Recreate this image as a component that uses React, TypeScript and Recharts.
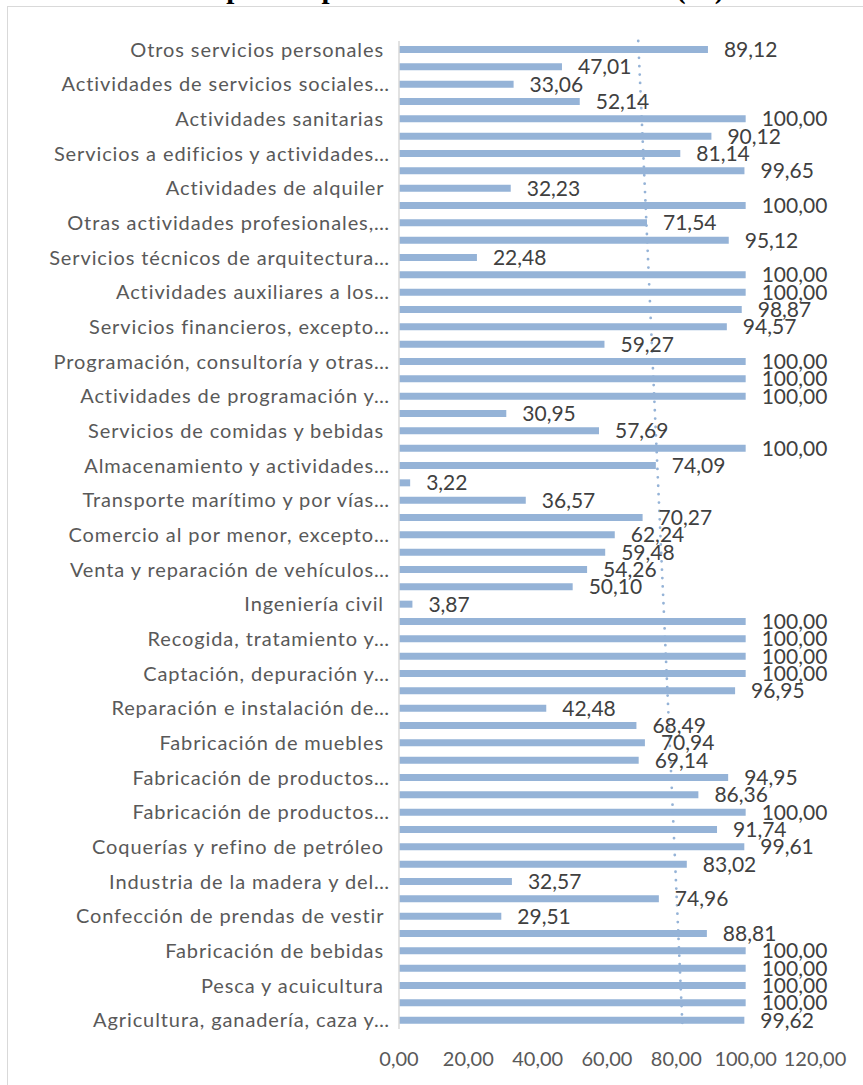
import { BarChart, Bar, XAxis, YAxis, LabelList, ReferenceLine } from 'recharts'

// categories from top to bottom (only every other label is drawn, as in the original)
const categories = [
  'Otros servicios personales\u00a0',
  'Actividades asociativas',
  'Actividades de servicios sociales…',
  'Asistencia en establecimientos residenciales',
  'Actividades sanitarias\u00a0',
  'Actividades administrativas de oficina',
  'Servicios a edificios y actividades…',
  'Actividades relacionadas con el empleo',
  'Actividades de alquiler\u00a0',
  'Actividades veterinarias',
  'Otras actividades profesionales,…',
  'Publicidad y estudios de mercado',
  'Servicios técnicos de arquitectura…',
  'Actividades jurídicas y de contabilidad',
  'Actividades auxiliares a los…',
  'Seguros, reaseguros y fondos de pensiones',
  'Servicios financieros, excepto…',
  'Servicios de información',
  'Programación, consultoría y otras…',
  'Telecomunicaciones',
  'Actividades de programación y…',
  'Edición',
  'Servicios de comidas y bebidas\u00a0',
  'Servicios de alojamiento',
  'Almacenamiento y actividades…',
  'Transporte aéreo',
  'Transporte marítimo y por vías…',
  'Transporte terrestre y por tubería',
  'Comercio al por menor, excepto…',
  'Comercio al por mayor',
  'Venta y reparación de vehículos…',
  'Actividades de construcción especializada',
  'Ingeniería civil\u00a0',
  'Construcción de edificios',
  'Recogida, tratamiento y…',
  'Recogida y tratamiento de aguas residuales',
  'Captación, depuración y…',
  'Suministro de energía eléctrica, gas…',
  'Reparación e instalación de…',
  'Otras industrias manufactureras',
  'Fabricación de muebles\u00a0',
  'Fabricación de otro material de transporte',
  'Fabricación de productos…',
  'Fabricación de maquinaria y equipo',
  'Fabricación de productos…',
  'Metalurgia',
  'Coquerías y refino de petróleo\u00a0',
  'Artes gráficas',
  'Industria de la madera y del…',
  'Industria del cuero y del calzado',
  'Confección de prendas de vestir\u00a0',
  'Industria textil',
  'Fabricación de bebidas\u00a0',
  'Industria de la alimentación',
  'Pesca y acuicultura\u00a0',
  'Silvicultura y explotación forestal',
  'Agricultura, ganadería, caza y…',
]

const values = [
  89.12, 47.01, 33.06, 52.14, 100.0, 90.12, 81.14, 99.65, 32.23, 100.0,
  71.54, 95.12, 22.48, 100.0, 100.0, 98.87, 94.57, 59.27, 100.0, 100.0,
  100.0, 30.95, 57.69, 100.0, 74.09, 3.22, 36.57, 70.27, 62.24, 59.48,
  54.26, 50.1, 3.87, 100.0, 100.0, 100.0, 100.0, 96.95, 42.48, 68.49,
  70.94, 69.14, 94.95, 86.36, 100.0, 91.74, 99.61, 83.02, 32.57, 74.96,
  29.51, 88.81, 100.0, 100.0, 100.0, 100.0, 99.62,
]

const xTicks = [0, 20, 40, 60, 80, 100, 120]

const data = categories.map((name, i) => ({ name, value: values[i] }))

// linear trendline over the series (least squares on category index)
const n = values.length
const meanI = (n - 1) / 2
const meanV = values.reduce((a, b) => a + b, 0) / n
let sxy = 0
let sxx = 0
values.forEach((v, i) => {
  sxy += (i - meanI) * (v - meanV)
  sxx += (i - meanI) * (i - meanI)
})
const slope = sxy / sxx
const trendTop = meanV - slope * meanI
const trendBottom = meanV + slope * (n - 1 - meanI)

const fmt = (v: number) => v.toFixed(2).replace('.', ',')

const BAR = '#95B3D7'
const FONT = 'Lato, "Liberation Sans", sans-serif'

export default function App() {
  return (
    <div style={{ position: 'absolute', left: 0, top: 0, width: 863, height: 1085, overflow: 'hidden', background: '#fff' }}>
      <div
        style={{
          position: 'absolute', left: 37, top: -26, whiteSpace: 'nowrap',
          fontFamily: '"Liberation Serif", serif', fontWeight: 'bold', fontSize: 29, lineHeight: '29px', color: '#000',
        }}
      >
        Gráfico 34. Empleo respecto al total de la actividad (%). Ramo
      </div>
      <div style={{ position: 'absolute', left: 7, top: 6, width: 900, height: 1200, border: '1.5px solid #d9d9d9' }} />
      <div style={{ position: 'absolute', left: 0, top: 0 }}>
        <BarChart
          width={863}
          height={1085}
          data={data}
          layout="vertical"
          margin={{ top: 41, right: 48, bottom: 0, left: 0 }}
          barCategoryGap={0}
        >
          <XAxis
            type="number"
            domain={[0, 120]}
            ticks={xTicks}
            tickFormatter={fmt}
            axisLine={false}
            tickLine={false}
            tickSize={0}
            tickMargin={23}
            height={56}
            interval={0}
            tick={{ fill: '#595959', fontSize: 20, fontFamily: FONT }}
          />
          <YAxis
            type="category"
            dataKey="name"
            width={399}
            interval={1}
            tickLine={false}
            tickSize={0}
            tickMargin={9}
            axisLine={{ stroke: '#d9d9d9', strokeWidth: 1.5 }}
            tick={{ fill: '#595959', fontSize: 20, fontFamily: FONT, letterSpacing: 0.9 }}
          />
          <Bar dataKey="value" fill={BAR} barSize={7} isAnimationActive={false}>
            <LabelList
              dataKey="value"
              position="right"
              offset={16}
              formatter={(v: unknown) => fmt(Number(v))}
              style={{ fill: '#404040', fontSize: 21, fontFamily: FONT }}
            />
          </Bar>
          <ReferenceLine
            segment={[
              { x: trendTop, y: categories[0] },
              { x: trendBottom, y: categories[n - 1] },
            ]}
            stroke={BAR}
            strokeWidth={2.8}
            strokeDasharray="0 8.4"
            strokeLinecap="round"
            ifOverflow="visible"
          />
        </BarChart>
      </div>
    </div>
  )
}
